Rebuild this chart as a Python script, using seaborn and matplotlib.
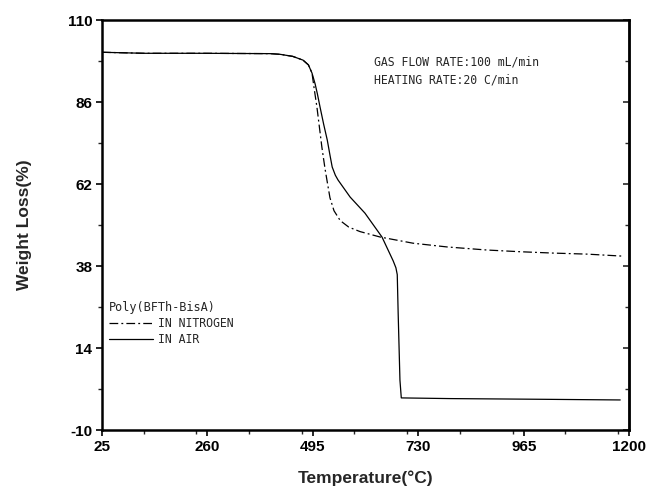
import matplotlib
matplotlib.use("Agg")
import matplotlib.pyplot as plt
from matplotlib.ticker import MultipleLocator, FixedLocator
import pandas as pd
import seaborn as sns

# TGA curves (temperature in C, weight in %)
air_temp = [25, 120, 250, 400, 422, 450, 473, 485, 493, 500, 505, 511, 519,
            527, 533, 538, 545, 551, 578, 611, 649, 674, 680, 683, 685, 689,
            692, 800, 1000, 1180]
air_weight = [100.6, 100.3, 100.3, 100.2, 100.0, 99.4, 98.3, 96.9, 94.5, 91.3,
              88.4, 84.5, 79.5, 74.9, 70.5, 67.0, 64.6, 63.2, 58.2, 53.5, 46.5,
              39.5, 37.5, 35.5, 24.3, 4.6, -0.6, -0.8, -1.0, -1.2]

n2_temp = [25, 120, 250, 400, 422, 450, 473, 485, 493, 498, 504, 515, 522,
           527, 533, 542, 556, 575, 600, 645, 718, 794, 883, 957, 1031, 1106,
           1187]
n2_weight = [100.6, 100.3, 100.3, 100.2, 100.0, 99.4, 98.3, 96.9, 94.5, 89.8,
             84.5, 72.8, 66.5, 62.6, 58.0, 54.2, 51.3, 49.4, 48.1, 46.5, 44.7,
             43.6, 42.7, 42.2, 41.8, 41.5, 40.9]

x_ticks = [25, 260, 495, 730, 965, 1200]
y_ticks = [-10, 14, 38, 62, 86, 110]

sns.set_style("ticks")
plt.rcParams["font.family"] = ["Liberation Sans", "DejaVu Sans"]
plt.rcParams["axes.unicode_minus"] = False

air = pd.DataFrame({"Temperature": air_temp, "Weight": air_weight})
n2 = pd.DataFrame({"Temperature": n2_temp, "Weight": n2_weight})

fig = plt.figure(figsize=(6.5, 4.92), dpi=100)
ax = fig.add_axes([0.157, 0.126, 0.811, 0.833])

sns.lineplot(data=n2, x="Temperature", y="Weight", ax=ax, color="black",
             linewidth=0.9, estimator=None, label="IN NITROGEN")
ax.lines[-1].set_dashes((7, 2.5, 1.5, 2.5))
sns.lineplot(data=air, x="Temperature", y="Weight", ax=ax, color="black",
             linewidth=0.9, estimator=None, label="IN AIR")

ax.set_xlim(25, 1200)
ax.set_ylim(-10, 110)
ax.xaxis.set_major_locator(FixedLocator(x_ticks))
ax.yaxis.set_major_locator(FixedLocator(y_ticks))
ax.xaxis.set_minor_locator(MultipleLocator(117.5))
ax.yaxis.set_minor_locator(FixedLocator([-10 + 12 * i for i in range(11)]))

for s in ax.spines.values():
    s.set_linewidth(1.8)
    s.set_color("black")

ax.tick_params(axis="both", which="major", labelsize=11, length=4, width=1.2,
               pad=3, colors="black")
ax.tick_params(axis="both", which="minor", length=3, width=1.0)
for lab in ax.get_xticklabels() + ax.get_yticklabels():
    lab.set_fontweight("bold")

# inward ticks on the right edge
sec = ax.secondary_yaxis("right")
sec.yaxis.set_major_locator(FixedLocator(y_ticks))
sec.yaxis.set_minor_locator(FixedLocator([-10 + 12 * i for i in range(11)]))
sec.tick_params(which="major", direction="in", length=4, width=1.2,
                labelright=False)
sec.tick_params(which="minor", direction="in", length=3, width=1.0)
sec.spines["right"].set_linewidth(1.8)

ax.set_xlabel("Temperature(°C)", fontsize=12.5, fontweight="bold", labelpad=12)
ax.set_ylabel("Weight Loss(%)", fontsize=12.5, fontweight="bold", labelpad=26)

mono = "DejaVu Sans Mono"
ax.text(0.515, 0.915, "GAS FLOW RATE:100 mL/min\nHEATING RATE:20 C/min",
        transform=ax.transAxes, fontsize=8.3, family=mono, va="top",
        ha="left", linespacing=1.5)

leg = ax.legend(title="Poly(BFTh-BisA)", loc="upper left",
                bbox_to_anchor=(0.005, 0.325), frameon=False,
                prop={"family": mono, "size": 8.3}, handlelength=3.8,
                handletextpad=0.4, labelspacing=0.25, alignment="left",
                borderaxespad=0)
leg.get_title().set_fontfamily(mono)
leg.get_title().set_fontsize(8.6)

fig.savefig("out.png", dpi=100)
